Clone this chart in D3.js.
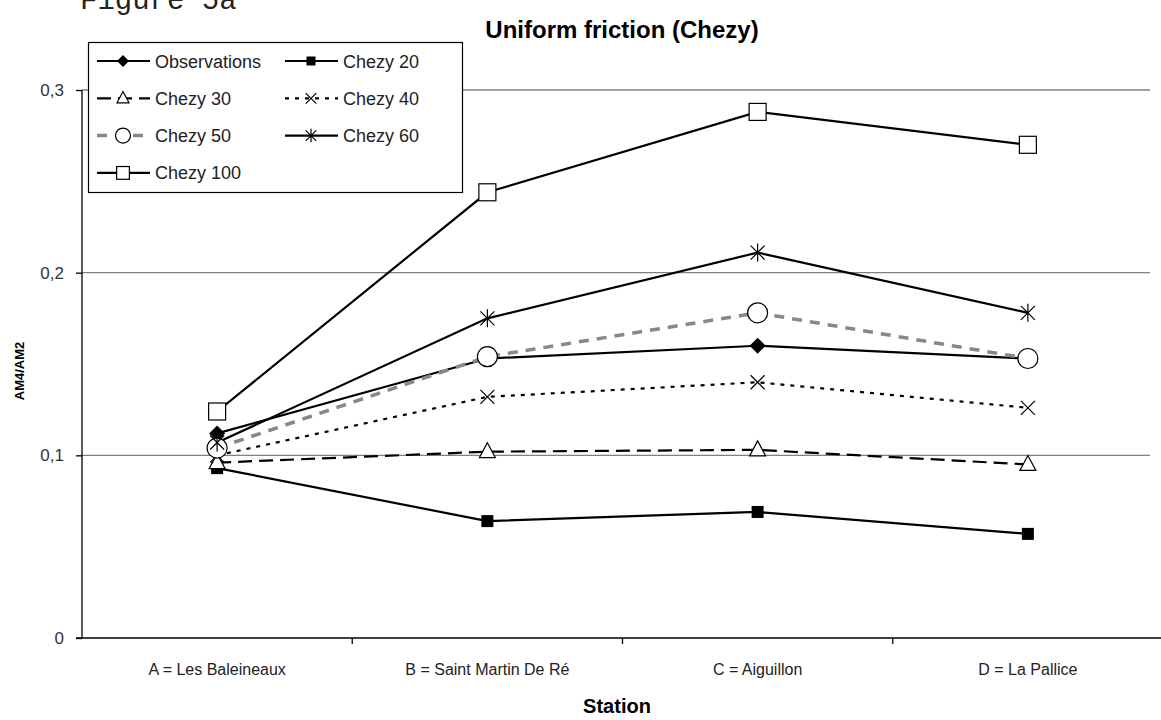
<!DOCTYPE html>
<html><head><meta charset="utf-8">
<script src="https://cdn.jsdelivr.net/npm/d3@7"></script>
<style>body{margin:0;background:#fff}svg{display:block}</style>
</head><body><svg id="c" width="1161" height="720" font-family="Liberation Sans, Arial, sans-serif"></svg>
<script>
const categories = ["A = Les Baleineaux", "B = Saint Martin De Ré", "C = Aiguillon", "D = La Pallice"];
const seriesNames = ["Observations", "Chezy 20", "Chezy 30", "Chezy 40", "Chezy 50", "Chezy 60", "Chezy 100"];
const observations = [0.112, 0.153, 0.160, 0.153];
const chezy20 = [0.093, 0.064, 0.069, 0.057];
const chezy30 = [0.096, 0.102, 0.103, 0.095];
const chezy40 = [0.100, 0.132, 0.140, 0.126];
const chezy50 = [0.104, 0.154, 0.178, 0.153];
const chezy60 = [0.107, 0.175, 0.211, 0.178];
const chezy100 = [0.124, 0.244, 0.288, 0.270];
const yTicks = [0, 0.1, 0.2, 0.3];
const yTickLabels = ["0", "0,1", "0,2", "0,3"];

const svg = d3.select("#c");
const L = 82, R = 1163, T = 90, B = 638;
const x = d3.scaleBand().domain(categories).range([L, R]);
const y = d3.scaleLinear().domain([0, 0.3]).range([B, T]);
const cx = c => x(c) + x.bandwidth() / 2;

// gridlines
svg.append("g").selectAll("line").data(yTicks.filter(d => d > 0)).join("line")
  .attr("x1", L).attr("x2", 1150).attr("y1", d => y(d)).attr("y2", d => y(d))
  .attr("stroke", "#808080").attr("stroke-width", 1.3);

// axes
const ya = svg.append("g").attr("transform", `translate(${L},0)`)
  .call(d3.axisLeft(y).tickValues(yTicks).tickFormat((d, i) => yTickLabels[i]).tickSize(6).tickPadding(12));
ya.attr("font-family", "Liberation Sans").attr("font-size", 17);
ya.select(".domain").attr("stroke", "#000").attr("stroke-width", 1.3).attr("d", `M0,${T}V${B}`);
ya.selectAll(".tick line").attr("stroke", "#000").attr("stroke-width", 1.3);
ya.selectAll(".tick text").attr("fill", "#333");

const xa = svg.append("g").attr("transform", `translate(0,${B})`);
xa.append("line").attr("x1", L - 6).attr("x2", R).attr("y1", 0).attr("y2", 0).attr("stroke", "#000").attr("stroke-width", 1.3);
xa.selectAll("line.tk").data(categories).join("line").attr("class", "tk")
  .attr("x1", d => x(d) + x.bandwidth()).attr("x2", d => x(d) + x.bandwidth()).attr("y1", 0).attr("y2", 6)
  .attr("stroke", "#000").attr("stroke-width", 1.3);
xa.selectAll("text").data(categories).join("text")
  .attr("x", d => cx(d)).attr("y", 37).attr("text-anchor", "middle").attr("font-size", 16).attr("fill", "#222").text(d => d);

// titles
svg.append("text").attr("x", 622).attr("y", 38).attr("text-anchor", "middle").attr("font-size", 24).attr("font-weight", "bold").text("Uniform friction (Chezy)");
svg.append("text").attr("x", 80).attr("y", 9).attr("font-size", 29).attr("font-family", "Liberation Mono").attr("fill", "#222").text("Figure 5a");
svg.append("text").attr("x", 617).attr("y", 713).attr("text-anchor", "middle").attr("font-size", 20).attr("font-weight", "bold").text("Station");
svg.append("text").attr("transform", "translate(24,371) rotate(-90)").attr("text-anchor", "middle").attr("font-size", 13).attr("font-weight", "bold").text("AM4/AM2");

// series definitions
const series = [
  {name: seriesNames[0], values: observations, stroke: "#000", width: 2.2, dash: null, marker: "diamond"},
  {name: seriesNames[1], values: chezy20, stroke: "#000", width: 2.2, dash: null, marker: "fsquare"},
  {name: seriesNames[2], values: chezy30, stroke: "#000", width: 2.2, dash: "14,7", marker: "triangle"},
  {name: seriesNames[3], values: chezy40, stroke: "#000", width: 2.2, dash: "4,6", marker: "x"},
  {name: seriesNames[4], values: chezy50, stroke: "#888", width: 3.5, dash: "10,8", marker: "circle"},
  {name: seriesNames[5], values: chezy60, stroke: "#000", width: 2.2, dash: null, marker: "star"},
  {name: seriesNames[6], values: chezy100, stroke: "#000", width: 2.2, dash: null, marker: "osquare"}
];

function drawMarker(g, type, s) {
  const k = s || 1;
  if (type === "diamond") g.append("path").attr("d", `M0,${-8*k}L${8*k},0L0,${8*k}L${-8*k},0Z`).attr("fill", "#000");
  else if (type === "fsquare") g.append("rect").attr("x", -6*k).attr("y", -6*k).attr("width", 12*k).attr("height", 12*k).attr("fill", "#000");
  else if (type === "triangle") g.append("path").attr("d", `M0,${-9*k}L${8*k},${6*k}L${-8*k},${6*k}Z`).attr("fill", "#fff").attr("stroke", "#000").attr("stroke-width", 1.2);
  else if (type === "x") g.append("path").attr("d", `M${-7*k},${-7*k}L${7*k},${7*k}M${7*k},${-7*k}L${-7*k},${7*k}`).attr("stroke", "#000").attr("stroke-width", 1.2);
  else if (type === "circle") g.append("circle").attr("r", 10*k).attr("fill", "#fff").attr("stroke", "#000").attr("stroke-width", 1.2);
  else if (type === "star") g.append("path").attr("d", `M${-7*k},${-7*k}L${7*k},${7*k}M${7*k},${-7*k}L${-7*k},${7*k}M0,${-9*k}V${9*k}`).attr("stroke", "#000").attr("stroke-width", 1.2);
  else if (type === "osquare") g.append("rect").attr("x", -8.5*k).attr("y", -8.5*k).attr("width", 17*k).attr("height", 17*k).attr("fill", "#fff").attr("stroke", "#000").attr("stroke-width", 1.2);
}

const line = d3.line().x((d, i) => cx(categories[i])).y(d => y(d));
series.forEach(s => {
  svg.append("path").attr("d", line(s.values)).attr("fill", "none").attr("stroke", s.stroke)
    .attr("stroke-width", s.width).attr("stroke-dasharray", s.dash);
});
series.forEach(s => {
  s.values.forEach((v, i) => {
    const g = svg.append("g").attr("transform", `translate(${cx(categories[i])},${y(v)})`);
    drawMarker(g, s.marker);
  });
});

// legend
const lg = svg.append("g");
lg.append("rect").attr("x", 88.5).attr("y", 42.5).attr("width", 374).attr("height", 150).attr("fill", "#fff").attr("stroke", "#000").attr("stroke-width", 1.2);
series.forEach((s, i) => {
  const col = i % 2, row = Math.floor(i / 2);
  const lx = col === 0 ? 97 : 285, ly = 61 + row * 37.3;
  lg.append("line").attr("x1", lx).attr("x2", lx + 53).attr("y1", ly).attr("y2", ly)
    .attr("stroke", s.stroke).attr("stroke-width", s.width).attr("stroke-dasharray", s.dash);
  const g = lg.append("g").attr("transform", `translate(${lx + 26},${ly})`);
  drawMarker(g, s.marker, 0.75);
  lg.append("text").attr("x", lx + 58).attr("y", ly + 6.5).attr("font-size", 18).attr("fill", "#222").text(s.name);
});
</script></body></html>
